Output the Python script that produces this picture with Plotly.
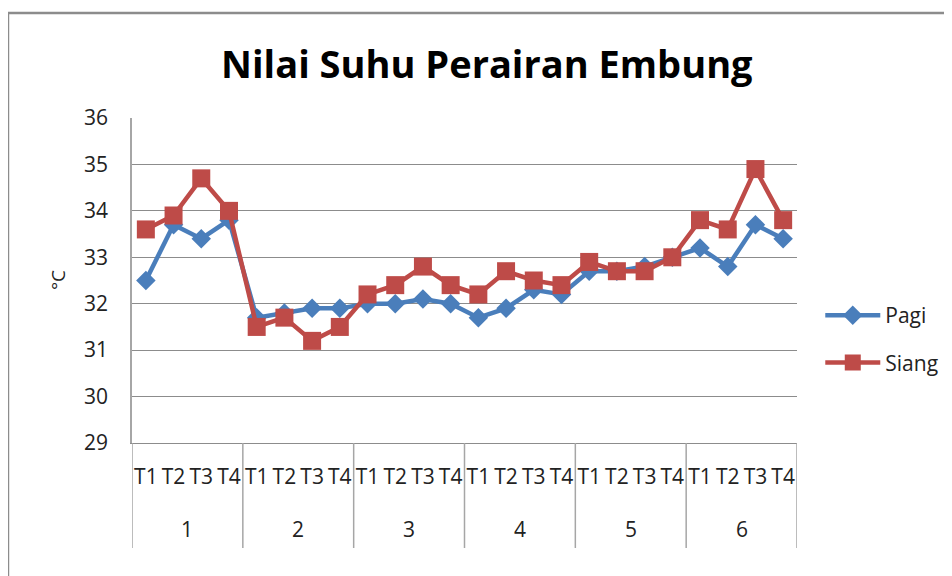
import plotly.graph_objects as go

groups = ["1", "2", "3", "4", "5", "6"]
times = ["T1", "T2", "T3", "T4"]
pagi = [32.5, 33.7, 33.4, 33.8,
        31.7, 31.8, 31.9, 31.9,
        32.0, 32.0, 32.1, 32.0,
        31.7, 31.9, 32.3, 32.2,
        32.7, 32.7, 32.8, 33.0,
        33.2, 32.8, 33.7, 33.4]
siang = [33.6, 33.9, 34.7, 34.0,
         31.5, 31.7, 31.2, 31.5,
         32.2, 32.4, 32.8, 32.4,
         32.2, 32.7, 32.5, 32.4,
         32.9, 32.7, 32.7, 33.0,
         33.8, 33.6, 34.9, 33.8]
y_ticks = [29, 30, 31, 32, 33, 34, 35, 36]

n_t = len(times)
idx = list(range(len(groups) * n_t))
tick_text = [t for _ in groups for t in times]

FONT = "Open Sans"
GRID = "#8C8C8C"
fig = go.Figure()
fig.add_trace(go.Scatter(x=idx, y=pagi, name="Pagi", mode="lines+markers", legendgroup="a",
                         line=dict(color="#4A7EBB", width=4.5),
                         marker=dict(symbol="diamond", size=15, color="#4A7EBB")))
fig.add_trace(go.Scatter(x=idx, y=siang, name="Siang", mode="lines+markers", legendgroup="b",
                         line=dict(color="#BE4B48", width=4.5),
                         marker=dict(symbol="square", size=18, color="#BE4B48")))

shapes = [dict(type="rect", xref="paper", yref="paper", x0=-0.1865, x1=1.5, y0=-0.7, y1=1.323,
               line=dict(color=GRID, width=2.5), layer="below")]
for gi in range(len(groups) + 1):
    xb = gi * n_t - 0.5
    shapes.append(dict(type="line", xref="x", yref="paper", x0=xb, x1=xb, y0=0, y1=-0.323,
                       line=dict(color="#A6A6A6", width=1.5)))
annotations = []
for gi, g in enumerate(groups):
    annotations.append(dict(x=gi * n_t + (n_t - 1) / 2, y=-0.265, xref="x", yref="paper",
                            text=g, showarrow=False, yanchor="middle",
                            font=dict(family=FONT, size=21, color="#222")))
annotations.append(dict(x=-0.112, y=0.5, xref="paper", yref="paper", text="°C", textangle=-90,
                        showarrow=False, xanchor="center", yanchor="middle",
                        font=dict(family=FONT, size=19, color="#222")))

fig.update_layout(
    width=952, height=576,
    margin=dict(l=124, r=163, t=110, b=141, autoexpand=False),
    paper_bgcolor="white", plot_bgcolor="white",
    font=dict(family=FONT, size=21, color="#222"),
    title=dict(text="<b>Nilai Suhu Perairan Embung</b>", x=0.503, xanchor="center",
               y=0.901, yanchor="middle", font=dict(family=FONT, size=38, color="black")),
    legend=dict(x=1.035, y=0.32, xanchor="left", yanchor="middle",
                font=dict(family=FONT, size=21, color="#222"),
                tracegroupgap=17, itemwidth=55, traceorder="grouped"),
    showlegend=True,
    shapes=shapes,
    annotations=annotations,
)
fig.update_yaxes(range=[29, 36], tickvals=y_ticks, showgrid=True, gridcolor=GRID,
                 gridwidth=1, showline=True, linecolor="#A6A6A6", linewidth=1.5, ticks="",
                 ticklabelstandoff=18, zeroline=False, automargin=False,
                 tickfont=dict(family=FONT, size=21, color="#222"))
fig.update_xaxes(range=[-0.5, len(idx) - 0.5], tickvals=idx, ticktext=tick_text, tickangle=0,
                 showline=True, linecolor=GRID, linewidth=1, showgrid=False, ticks="",
                 zeroline=False, automargin=False, ticklabelstandoff=15,
                 tickfont=dict(family=FONT, size=21, color="#222"))

fig.write_html("out.html")
